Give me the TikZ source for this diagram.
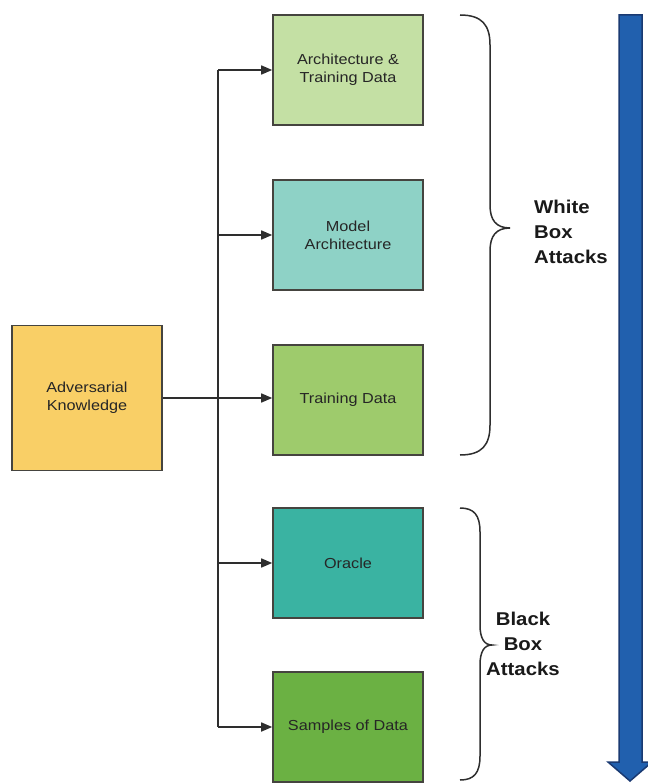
\documentclass[tikz,border=0pt]{standalone}
\usepackage{fontspec}
\setmainfont{Liberation Sans}
\newfontfamily\boxfont[FakeStretch=1.12]{Liberation Sans}
\newfontfamily\lblfont[FakeStretch=1.1]{Liberation Sans}
\usetikzlibrary{arrows.meta}
\definecolor{cAdv}{HTML}{F9CF66}
\definecolor{cArchTD}{HTML}{C4E0A4}
\definecolor{cModel}{HTML}{8ED2C6}
\definecolor{cTD}{HTML}{9ECB6C}
\definecolor{cOracle}{HTML}{3AB3A2}
\definecolor{cSamples}{HTML}{6BB143}
\definecolor{cBorder}{HTML}{45443F}
\definecolor{cLine}{HTML}{2E2E2E}
\definecolor{cBlue}{HTML}{2160AE}
\definecolor{cBlueDark}{HTML}{1A3A72}
\tikzset{
  box/.style={draw=cBorder, line width=1.6pt, minimum width=150pt, minimum height=110pt,
    inner sep=0pt, align=center, font=\boxfont\fontsize{14.5}{18}\selectfont, text=black!85},
  conn/.style={draw=cLine, line width=1.6pt},
  arr/.style={conn, -{Triangle[length=11pt,width=9pt]}},
  bracestyle/.style={draw=cLine, line width=1.5pt},
  lbl/.style={font=\lblfont\bfseries\fontsize{18.5}{25}\selectfont, text=black!90, inner sep=0pt}
}
\begin{document}
\begin{tikzpicture}[x=1pt,y=-1pt]
\useasboundingbox (0,0) rectangle (647,783);
\fill[white] (0,0) rectangle (647,783);

\node[box, fill=cAdv, minimum height=145pt] (adv) at (87,398) {Adversarial\\Knowledge};
\node[box, fill=cArchTD] (atd) at (348,70) {Architecture \&\\Training Data};
\node[box, fill=cModel] (ma) at (348,235) {Model\\Architecture};
\node[box, fill=cTD] (td) at (348,400) {Training Data};
\node[box, fill=cOracle] (or) at (348,563) {Oracle};
\node[box, fill=cSamples] (sd) at (348,727) {Samples of Data};

\coordinate (jtop) at (218,70);
\coordinate (jbot) at (218,727);
\draw[conn] (jtop) -- (jbot);
\draw[arr] (adv.east) -- (adv.east -| td.west);
\draw[arr] (jtop) -- (atd.west);
\draw[arr] (jtop |- ma.west) -- (ma.west);
\draw[arr] (jtop |- or.west) -- (or.west);
\draw[arr] (jbot) -- (sd.west);

% White box brace
\draw[bracestyle] (460,15) .. controls (482,15) and (490,25) .. (490,45)
  -- (490,205) .. controls (490,220) and (496,228) .. (510,228)
  .. controls (496,228) and (490,236) .. (490,251)
  -- (490,425) .. controls (490,445) and (482,455) .. (460,455);
\node[lbl, anchor=west, align=left] (wba) at (534,232) {White\\Box\\Attacks};

% Black box brace
\draw[bracestyle] (460,508) .. controls (474,508) and (480,515) .. (480,532)
  -- (480,625) .. controls (480,638) and (484,645) .. (492,645)
  .. controls (484,645) and (480,652) .. (480,665)
  -- (480,756) .. controls (480,773) and (474,780) .. (460,780);
\node[lbl, align=center] (bba) at (523,644) {Black\\Box\\Attacks};

% Blue arrow
\draw[fill=cBlue, draw=cBlueDark, line width=1.5pt, line join=miter]
  (619,15) -- (642,15) -- (642,762) -- (652,762) -- (630,781) -- (608,762) -- (619,762) -- cycle;
\end{tikzpicture}
\end{document}
